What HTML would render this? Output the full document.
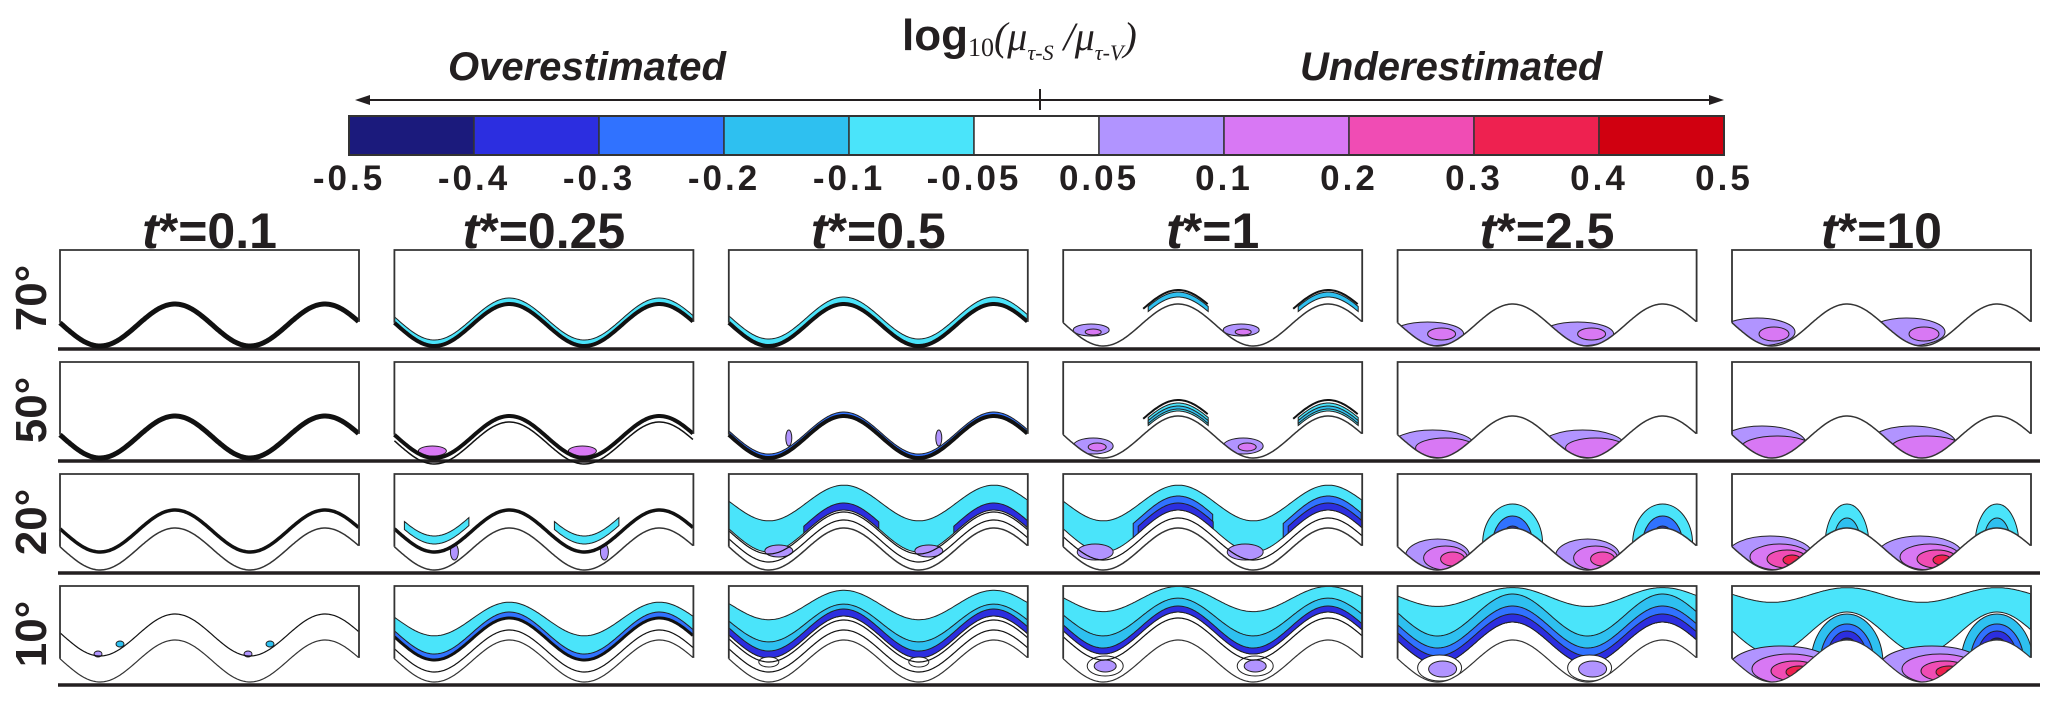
<!DOCTYPE html>
<html><head><meta charset="utf-8"><style>
html,body{margin:0;padding:0;background:#fff;}
svg{display:block;font-family:"Liberation Sans",sans-serif;}
</style></head><body>
<svg id="fig" width="2067" height="705" viewBox="0 0 2067 705" xmlns="http://www.w3.org/2000/svg">
<g>
<text x="902" y="50" font-size="44" font-weight="bold" fill="#231f20">log<tspan font-family="Liberation Serif" font-size="26" font-weight="normal" dy="6">10</tspan><tspan font-family="Liberation Serif" font-style="italic" font-weight="normal" font-size="40" dy="-6">(μ</tspan><tspan font-family="Liberation Serif" font-style="italic" font-size="22" font-weight="normal" dy="10">τ-S</tspan><tspan font-family="Liberation Serif" font-style="italic" font-size="40" font-weight="normal" dy="-10"> /μ</tspan><tspan font-family="Liberation Serif" font-style="italic" font-size="22" font-weight="normal" dy="10">τ-V</tspan><tspan font-family="Liberation Serif" font-style="italic" font-size="40" font-weight="normal" dy="-10">)</tspan></text>
</g>
<text x="448" y="80" font-size="40" font-weight="bold" font-style="italic" fill="#231f20">Overestimated</text>
<text x="1300" y="80" font-size="40" font-weight="bold" font-style="italic" fill="#231f20">Underestimated</text>
<g stroke="#231f20" stroke-width="2" fill="#231f20">
<line x1="362" y1="100" x2="1716" y2="100"/>
<line x1="1040" y1="89" x2="1040" y2="110"/>
<path d="M355 100 L370 95 L370 105 Z" stroke="none"/>
<path d="M1724 100 L1709 95 L1709 105 Z" stroke="none"/>
</g>
<g id="cbar"></g>
<g id="titles"></g>
<g id="panels"></g>
</svg>
<script>
const levelLabels = ["-0.5","-0.4","-0.3","-0.2","-0.1","-0.05","0.05","0.1","0.2","0.3","0.4","0.5"];
const levelColors = ["#1b1a7c","#2c2ee0","#3072ff","#2ec0f0","#4ae4fa","#ffffff","#b194ff","#d878f4","#f04cb4","#ee2150","#d00010"];
const columnTitles = ["0.1","0.25","0.5","1","2.5","10"];
const rowLabels = ["70°","50°","20°","10°"];
// panel specs: bands [offTop, offBot, amp, colorIdx, x0, x1], lines [off, amp, width], blobs [cx, cy, rx, ry, colorIdx]
const panelSpecs = [
 [ {wall:5},
   {wall:4,bands:[[0,6,1,4]]},
   {wall:4,bands:[[0,7,1,4]]},
   {wall:1.5,bands:[[7,12,1,3,85,145]],lines:[[14,1,2,80,145]],blobs:[[28,80,18,6,6],[30,82,8,3,7]]},
   {wall:1.5,blobs:[[30,84,36,12,6],[44,84,14,6,7]]},
   {wall:1.5,blobs:[[25,82,38,14,6],[42,84,15,7,7]]} ],
 [ {wall:5},
   {wall:4,lines:[[-6,1,1.5]],blobs:[[38,89,14,5,7]]},
   {wall:4,bands:[[0,4,1,2]],blobs:[[60,76,3,8,6]]},
   {wall:1.5,bands:[[5,13,1,4,85,145],[7,10,1,3,85,145]],lines:[[16,1,2,80,145]],blobs:[[30,84,20,8,6],[34,85,9,4,7]]},
   {wall:1.5,blobs:[[35,84,42,16,6],[48,86,30,10,7]]},
   {wall:1.5,blobs:[[30,82,44,18,6],[45,86,36,12,7]]} ],
 [ {wall:1.5,lines:[[18,1,3.5]]},
   {wall:1.5,lines:[[18,1,3.5]],bands:[[26,34,1,4,10,75]],blobs:[[60,78,4,8,6]]},
   {wall:1.5,lines:[[8,1,1.2],[16,1,1.2]],bands:[[18,46,0.85,4],[18,25,1,1,75,150]],blobs:[[50,77,14,6,6]]},
   {wall:1.5,lines:[[10,1,1.2]],bands:[[18,46,0.85,4],[18,32,1,2,70,150],[18,25,1,1,75,150]],blobs:[[32,78,18,8,6]]},
   {wall:1.5,blobs:[[115,70,30,40,4],[115,70,20,28,2],[115,70,12,18,1],[40,82,32,17,6],[48,84,22,12,7],[55,85,12,7,8]]},
   {wall:1.5,blobs:[[115,72,22,42,4],[115,72,14,28,3],[38,80,42,18,6],[48,83,30,13,7],[55,85,20,9,8],[60,86,9,5,9]]} ],
 [ {wall:1.2,lines:[[26,1,1.2]],blobs:[[38,68,4,3,6],[60,58,4,3,3]]},
   {wall:1.2,lines:[[10,1,1.2],[22,1,3]],bands:[[22,42,0.8,4],[22,28,1,2]]},
   {wall:1.2,lines:[[10,1,1.2],[20,1,1.2]],bands:[[24,56,0.7,4],[24,38,0.9,3],[24,31,1,1]],blobs:[[40,76,10,5,5]]},
   {wall:1.2,lines:[[22,1,1.2]],bands:[[28,62,0.6,4],[28,44,0.9,3],[28,34,1,1]],blobs:[[42,80,18,10,5],[42,80,11,6,6]]},
   {wall:1.2,bands:[[18,64,0.45,4],[18,46,1,3],[18,34,1,2],[18,26,1,1]],blobs:[[42,82,22,13,5],[45,83,14,8,6]]},
   {wall:1.2,bands:[[28,66,0.35,4]],blobs:[[115,78,36,50,3],[115,78,27,40,2],[115,78,21,33,1],[115,78,15,26,0],[50,80,52,20,6],[58,83,38,15,7],[63,85,24,10,8],[67,86,13,6,9],[70,87,6,4,10]]} ]
];
const NS="http://www.w3.org/2000/svg";
function mk(tag,attrs,parent){const e=document.createElementNS(NS,tag);for(const k in attrs)e.setAttribute(k,attrs[k]);parent.appendChild(e);return e;}
const cb=document.getElementById('cbar');
const cbX0=349,cbX1=1724,cbY=116,cbH=39;
const cw=(cbX1-cbX0)/levelColors.length;
levelColors.forEach((c,i)=>{
  const r=mk('rect',{x:cbX0+i*cw,y:cbY,width:cw,height:cbH,fill:c,stroke:'#333','stroke-width':1.5},cb);
  
  
});
mk('rect',{x:cbX0,y:cbY,width:cbX1-cbX0,height:cbH,fill:'none',stroke:'#333','stroke-width':2},cb);
levelLabels.forEach((l,i)=>{
  const t=mk('text',{x:cbX0+i*cw,y:190,'font-size':35,'font-weight':'bold','text-anchor':'middle','letter-spacing':'3',fill:'#231f20'},cb);
  t.textContent=l;
  
  
});
const PX0=60,PDX=334.4,PY0=250,PDY=112,PW=299;
function wave(x,off,amp){return 75-off+21*amp*Math.cos(2*Math.PI*(x-40)/150);}
const tg=document.getElementById('titles');
columnTitles.forEach((t,c)=>{
  const e=mk('text',{x:PX0+c*PDX+PW/2,y:248,'font-size':50,'font-weight':'bold','text-anchor':'middle',fill:'#231f20'},tg);
  e.innerHTML='<tspan font-style="italic">t</tspan>*='+t;
  
  
});
const pg=document.getElementById('panels');
rowLabels.forEach((l,r)=>{
  const cy=PY0+r*PDY+48;
  const e=mk('text',{x:0,y:0,'font-size':44,'font-weight':'bold','text-anchor':'middle',fill:'#231f20',transform:`translate(46,${cy}) rotate(-90)`},pg);
  e.textContent=l;
  
  
  const bl=mk('line',{x1:58,x2:2040,y1:PY0+r*PDY+99,y2:PY0+r*PDY+99,stroke:'#231f20','stroke-width':3.5},pg);
  
  
});
function curvePts(off,amp,x0,x1){const p=[];for(let x=x0;x<=x1+0.01;x+=1.5)p.push([x,wave(x,off,amp)]);return p;}
function ranges(b){ if(b===undefined) return [[0,PW]]; const out=[];for(let k=0;k<2;k++){const a=b[0]+k*150,z=Math.min(b[1]+k*150,PW);if(a<PW)out.push([a,z]);}return out;}
panelSpecs.forEach((row,r)=>{row.forEach((sp,c)=>{
  const ox=PX0+c*PDX,oy=PY0+r*PDY,id=`cp${r}_${c}`;
  const g=mk('g',{transform:`translate(${ox},${oy})`},pg);
  
  
  const cp=mk('clipPath',{id},g);
  const fl=curvePts(0,1,0,PW);
  mk('path',{d:'M0 0 L'+PW+' 0 '+fl.slice().reverse().map(p=>'L'+p[0]+' '+p[1]).join(' ')+' Z'},cp);
  const inner=mk('g',{'clip-path':`url(#${id})`},g);
  (sp.bands||[]).forEach(b=>{
    ranges(b[4]!==undefined?[b[4],b[5]]:undefined).forEach(([a,z])=>{
      const top=curvePts(b[1],b[2],a,z),bot=curvePts(b[0],1,a,z).reverse();
      const p=mk('path',{d:'M'+top.concat(bot).map(q=>q[0].toFixed(1)+' '+q[1].toFixed(1)).join(' L')+' Z',fill:levelColors[b[3]],stroke:'#222','stroke-width':1},inner);
      
      
    });
  });
  (sp.blobs||[]).forEach(b=>{for(let k=0;k<2;k++){
    const e=mk('ellipse',{cx:b[0]+k*150,cy:b[1],rx:b[2],ry:b[3],fill:levelColors[b[4]],stroke:'#222','stroke-width':1},inner);
    
    
  }});
  (sp.lines||[]).forEach(l=>{ranges(l[3]!==undefined?[l[3],l[4]]:undefined).forEach(([a,z])=>{
    const pts=curvePts(l[0],l[1],a,z);
    const e=mk('polyline',{points:pts.map(q=>q[0].toFixed(1)+','+q[1].toFixed(1)).join(' '),fill:'none',stroke:'#111','stroke-width':l[2]},g);
    
    
  });});
  const w=mk('polyline',{points:fl.map(q=>q[0].toFixed(1)+','+q[1].toFixed(1)).join(' '),fill:'none',stroke:sp.wall>2?'#111':'#333','stroke-width':sp.wall},g);
  
  
  const box=mk('path',{d:`M0 ${wave(0,0,1)} L0 0 L${PW} 0 L${PW} ${wave(PW,0,1)}`,fill:'none',stroke:'#333','stroke-width':1.8},g);
  
  
});});
</script>
</body></html>
